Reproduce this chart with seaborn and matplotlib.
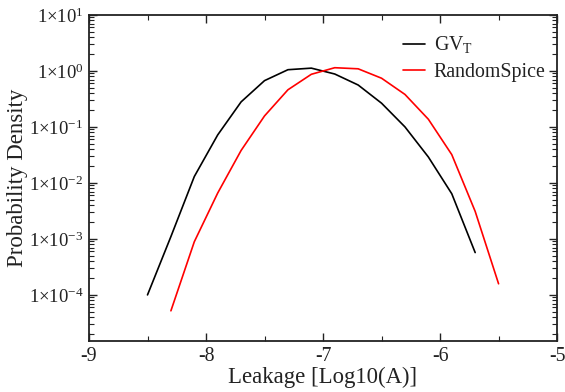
import numpy as np
import pandas as pd
import seaborn as sns
import matplotlib
matplotlib.use("Agg")
import matplotlib.pyplot as plt
from matplotlib.ticker import FuncFormatter, FixedLocator, LogLocator, MultipleLocator

# Data
gvt_x = [-8.5, -8.3, -8.1, -7.9, -7.7, -7.5, -7.3, -7.1, -6.9, -6.7, -6.5, -6.3, -6.1, -5.9, -5.7]
gvt_y = [1.0e-4, 1.1e-3, 1.3e-2, 7.2e-2, 0.28, 0.67, 1.05, 1.12, 0.88, 0.56, 0.265, 0.10, 0.029, 6.4e-3, 5.7e-4]
rs_x = [-8.3, -8.1, -7.9, -7.7, -7.5, -7.3, -7.1, -6.9, -6.7, -6.5, -6.3, -6.1, -5.9, -5.7, -5.5]
rs_y = [5.2e-5, 8.9e-4, 6.6e-3, 3.8e-2, 0.157, 0.46, 0.87, 1.14, 1.09, 0.74, 0.38, 0.137, 3.2e-2, 3.1e-3, 1.58e-4]
labels = ["GV$_\\mathrm{T}$", "RandomSpice"]
y_major = [1e-4, 1e-3, 1e-2, 1e-1, 1e0, 1e1]

sns.set_style("ticks")
plt.rcParams["font.family"] = ["Liberation Serif", "DejaVu Serif"]
plt.rcParams["mathtext.fontset"] = "custom"
plt.rcParams["mathtext.rm"] = "Liberation Serif"
plt.rcParams["mathtext.it"] = "Liberation Serif:italic"
plt.rcParams["axes.unicode_minus"] = False

df = pd.concat([
    pd.DataFrame({"x": gvt_x, "y": gvt_y, "s": labels[0]}),
    pd.DataFrame({"x": rs_x, "y": rs_y, "s": labels[1]}),
])

fig = plt.figure(figsize=(5.65, 3.92), dpi=100)
ax = fig.add_axes([0.1575, 0.130, 0.8285, 0.832])
sns.lineplot(data=df, x="x", y="y", hue="s", palette=["#000000", "#ff0000"],
             lw=1.2, ax=ax, sort=False, estimator=None)
ax.set_yscale("log")
ax.set_xlim(-9, -5)
ax.set_ylim(1.5e-5, 10)

ax.xaxis.set_major_locator(MultipleLocator(1))
ax.xaxis.set_minor_locator(MultipleLocator(0.5))
ax.yaxis.set_major_locator(FixedLocator(y_major))
ax.yaxis.set_minor_locator(LogLocator(base=10, subs=np.arange(2, 10), numticks=20))
ax.yaxis.set_major_formatter(FuncFormatter(lambda v, p: "1\u00d710$^{%d}$" % round(np.log10(v))))
ax.xaxis.set_major_formatter(FuncFormatter(lambda v, p: "%d" % round(v)))

ax.tick_params(which="both", direction="in", top=True, right=True, colors="#222222",
               labelsize=14.3, labelcolor="#222222")
ax.tick_params(axis="y", labelsize=13.5)
ax.tick_params(which="major", length=6, width=1, pad=4)
ax.tick_params(which="minor", length=3.5, width=0.8)
for s in ax.spines.values():
    s.set_linewidth(1.3)
    s.set_color("#222222")

ax.set_xlabel("Leakage [Log10(A)]", fontsize=16.4, color="#222222", labelpad=1)
ax.set_ylabel("Probability Density", fontsize=16.5, color="#222222")
ax.yaxis.set_label_coords(-0.131, 0.5)

leg = ax.legend(loc="upper right", bbox_to_anchor=(0.975, 0.94), frameon=False,
                fontsize=14.3, handlelength=1.1, handletextpad=0.45, labelspacing=0.4,
                borderaxespad=0, borderpad=0)
for t in leg.get_texts():
    t.set_color("#222222")

fig.savefig("out.png", dpi=100)
